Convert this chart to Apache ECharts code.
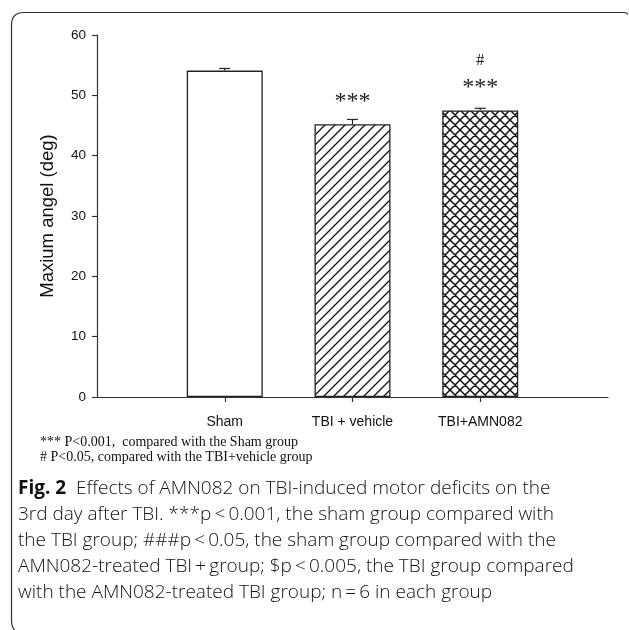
<!DOCTYPE html>
<html>
<head>
<meta charset="utf-8">
<script src="https://cdn.jsdelivr.net/npm/echarts@6/dist/echarts.min.js"></script>
<style>html,body{margin:0;padding:0;background:#fff;}#c{width:629px;height:630px;}</style>
</head>
<body>
<div id="c"></div>
<script>
// ---- data ----
const categories = ['', 'Sham', 'TBI + vehicle', 'TBI+AMN082', ''];
const means = [null, 54.1, 45.2, 47.5, null];
const sems = [null, 0.35, 0.8, 0.35, null];
const sigLabels = ['', '', '***', '#\n***', ''];
const yMin = 0, yMax = 60, yInterval = 10;
const yTitle = 'Maxium angel (deg)';
const footnotes = ['*** P<0.001,  compared with the Sham group', '# P<0.05, compared with the TBI+vehicle group'];
const captionLines = [
  '{b|Fig. 2}  Effects of AMN082 on TBI-induced motor deficits on the',
  '3rd day after TBI. ***p\u2009<\u20090.001, the sham group compared with',
  'the TBI group; ###p\u2009<\u20090.05, the sham group compared with the',
  'AMN082-treated TBI\u2009+\u2009group; $p\u2009<\u20090.005, the TBI group compared',
  'with the AMN082-treated TBI group; n\u2009=\u20096 in each group'
];

// ---- patterns ----
function hatch(size, lw, both) {
  const c = document.createElement('canvas');
  c.width = size; c.height = size;
  const g = c.getContext('2d');
  g.fillStyle = '#fff'; g.fillRect(0, 0, size, size);
  g.strokeStyle = '#111'; g.lineWidth = lw;
  g.beginPath();
  g.moveTo(-1, size + 1); g.lineTo(size + 1, -1);
  g.moveTo(-2, 2); g.lineTo(2, -2);
  g.moveTo(size - 2, size + 2); g.lineTo(size + 2, size - 2);
  if (both) {
    g.moveTo(-1, -1); g.lineTo(size + 1, size + 1);
    g.moveTo(size - 2, -2); g.lineTo(size + 2, 2);
    g.moveTo(-2, size - 2); g.lineTo(2, size + 2);
  }
  g.stroke();
  return c;
}
const fills = [
  '#fff',
  '#fff',
  { image: hatch(10, 1.3, false), repeat: 'repeat' },
  { image: hatch(10, 1.5, true), repeat: 'repeat' },
  '#fff'
];

const barData = means.map((m, i) => m == null ? '-' : {
  value: m,
  itemStyle: { color: fills[i] },
  label: { show: sigLabels[i] !== '' }
});
const errData = means.map((m, i) => m == null ? null : [i, m, sems[i]]).filter(d => d);

const chart = echarts.init(document.getElementById('c'), null, { renderer: 'canvas' });
const axisColor = '#333';
const sans = '"Liberation Sans", Arial, sans-serif';
const frameStyle = { fill: 'none', stroke: '#333', lineWidth: 1.2 };

chart.setOption({
  animation: false,
  backgroundColor: '#fff',
  grid: { left: 97, right: 21, top: 35, bottom: 233 },
  xAxis: {
    type: 'category',
    data: categories,
    boundaryGap: false,
    axisLine: { lineStyle: { color: axisColor, width: 1.2 } },
    axisTick: { show: true, length: 5, interval: i => categories[i] !== '', lineStyle: { color: axisColor, width: 1.2 } },
    axisLabel: { interval: i => categories[i] !== '', color: '#111', fontSize: 14, fontFamily: sans, margin: 18 }
  },
  yAxis: {
    type: 'value',
    min: yMin, max: yMax, interval: yInterval,
    name: yTitle,
    nameLocation: 'middle',
    nameGap: 40,
    nameTextStyle: { color: '#111', fontSize: 18.5, fontFamily: sans },
    axisLine: { show: true, lineStyle: { color: axisColor, width: 1.2 } },
    axisTick: { show: true, length: 5, lineStyle: { color: axisColor, width: 1.2 } },
    axisLabel: { color: '#111', fontSize: 13.5, fontFamily: sans, margin: 11 },
    splitLine: { show: false }
  },
  series: [
    {
      type: 'bar',
      data: barData,
      barWidth: 76,
      itemStyle: { borderColor: '#222', borderWidth: 1.3 },
      label: {
        show: false,
        position: 'top',
        distance: 11,
        formatter: p => {
          const s = sigLabels[p.dataIndex];
          return s.split('\n').map(t => t === '#' ? '{h|#}' : '{s|' + t + '}').join('\n');
        },
        rich: {
          h: { fontFamily: '"Liberation Serif", serif', fontSize: 16, lineHeight: 30, color: '#111' },
          s: { fontFamily: '"Liberation Serif", serif', fontSize: 24, lineHeight: 24, color: '#222' }
        }
      }
    },
    {
      type: 'custom',
      data: errData,
      z: 5,
      renderItem: (params, api) => {
        const base = api.coord([api.value(0), api.value(1)]);
        const top = api.coord([api.value(0), api.value(1) + api.value(2)]);
        const hw = 5.5;
        return {
          type: 'group',
          children: [
            { type: 'line', shape: { x1: base[0], y1: base[1], x2: top[0], y2: top[1] }, style: { stroke: '#222', lineWidth: 1.2 } },
            { type: 'line', shape: { x1: top[0] - hw, y1: top[1], x2: top[0] + hw, y2: top[1] }, style: { stroke: '#222', lineWidth: 1.2 } }
          ]
        };
      }
    }
  ],
  graphic: [
    { type: 'line', shape: { x1: 624, y1: 12.5, x2: 24, y2: 12.5 }, style: frameStyle },
    { type: 'bezierCurve', shape: { x1: 624, y1: 12.5, cpx1: 627, cpy1: 12.5, x2: 628, y2: 14.5 }, style: frameStyle },
    { type: 'bezierCurve', shape: { x1: 24, y1: 12.5, cpx1: 11.5, cpy1: 12.5, x2: 11.5, y2: 25 }, style: frameStyle },
    { type: 'line', shape: { x1: 11.5, y1: 25, x2: 11.5, y2: 620 }, style: frameStyle },
    { type: 'bezierCurve', shape: { x1: 11.5, y1: 620, cpx1: 11.5, cpy1: 629, x2: 17, y2: 632 }, style: frameStyle },
    {
      type: 'text', left: 40, top: 435,
      style: { text: footnotes[0], font: '14px "Liberation Serif", serif', fill: '#111' }
    },
    {
      type: 'text', left: 40, top: 450,
      style: { text: footnotes[1], font: '14px "Liberation Serif", serif', fill: '#111' }
    },
    {
      type: 'text', left: 18, top: 476,
      style: {
        text: captionLines.join('\n'),
        fontFamily: '"Open Sans", sans-serif',
        fontSize: 19,
        fontWeight: 300,
        lineHeight: 26,
        fill: '#111',
        rich: {
          b: { fontFamily: '"Open Sans", sans-serif', fontWeight: 'bold', fontSize: 19, lineHeight: 26, fill: '#111' }
        }
      }
    }
  ]
});
</script>
</body>
</html>
